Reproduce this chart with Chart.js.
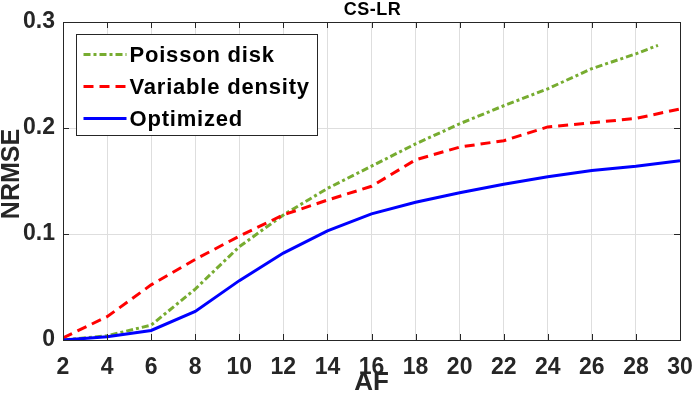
<!DOCTYPE html>
<html>
<head>
<meta charset="utf-8">
<script src="https://cdn.jsdelivr.net/npm/chart.js@4/dist/chart.umd.min.js"></script>
<style>
  html, body { margin: 0; padding: 0; background: #ffffff; }
  #wrap { width: 694px; height: 394px; position: relative; }
</style>
</head>
<body>
<div id="wrap"><canvas id="c" width="694" height="394"></canvas></div>
<script>
// ---- data ----
const chartTitle = 'CS-LR';
const xTitle = 'AF';
const yTitle = 'NRMSE';
const seriesNames = ['Poisson disk', 'Variable density', 'Optimized'];
const afValues = [2, 4, 6, 8, 10, 12, 14, 16, 18, 20, 22, 24, 26, 28, 30];
const poissonAF = [2, 4, 6, 8, 10, 12, 14, 16, 18, 20, 22, 24, 26, 28, 29];
const poissonDisk = [0.000, 0.004, 0.014, 0.048, 0.088, 0.118, 0.143, 0.164, 0.185, 0.204, 0.221, 0.237, 0.256, 0.270, 0.278];
const variableDensity = [0.002, 0.022, 0.052, 0.076, 0.098, 0.118, 0.132, 0.145, 0.170, 0.182, 0.188, 0.201, 0.205, 0.209, 0.218];
const optimized = [0.000, 0.003, 0.009, 0.027, 0.056, 0.082, 0.103, 0.119, 0.130, 0.139, 0.147, 0.154, 0.160, 0.164, 0.169];
const xTickStep = 2;
const yTickStep = 0.1;

const FONT = "'Liberation Sans', Arial, Helvetica, sans-serif";
const AXIS_COLOR = '#262626';

function pts(xs, ys) { return xs.map((x, i) => ({ x: x, y: ys[i] })); }

const insideTicks = {
  id: 'insideTicks',
  afterDatasetsDraw(chart) {
    const ctx = chart.ctx;
    const a = chart.chartArea;
    const xs = chart.scales.x, ys = chart.scales.y;
    const L = 6;
    ctx.save();
    ctx.strokeStyle = AXIS_COLOR;
    ctx.lineWidth = 1;
    ctx.beginPath();
    xs.ticks.forEach(t => {
      const px = Math.round(xs.getPixelForValue(t.value)) + 0.5;
      ctx.moveTo(px, a.bottom); ctx.lineTo(px, a.bottom - L);
      ctx.moveTo(px, a.top); ctx.lineTo(px, a.top + L);
    });
    ys.ticks.forEach(t => {
      const py = Math.round(ys.getPixelForValue(t.value)) + 0.5;
      ctx.moveTo(a.left, py); ctx.lineTo(a.left + L, py);
      ctx.moveTo(a.right, py); ctx.lineTo(a.right - L, py);
    });
    ctx.moveTo(a.left, Math.round(a.top) + 0.5); ctx.lineTo(a.right, Math.round(a.top) + 0.5);
    ctx.moveTo(Math.round(a.right) + 0.5, a.top); ctx.lineTo(Math.round(a.right) + 0.5, a.bottom);
    ctx.stroke();
    ctx.restore();
  }
};

// chart title and y-axis title
const titles = {
  id: 'titles',
  afterDraw(chart) {
    const ctx = chart.ctx;
    const a = chart.chartArea;
    ctx.save();
    ctx.fillStyle = '#000000';
    ctx.font = 'bold 18px ' + FONT;
    ctx.textAlign = 'center';
    ctx.textBaseline = 'alphabetic';
    try { ctx.letterSpacing = '0.5px'; } catch (e) {}
    ctx.fillText(chartTitle, (a.left + a.right) / 2 + 1, 15);
    try { ctx.letterSpacing = '0px'; } catch (e) {}
    ctx.translate(12, (a.top + a.bottom) / 2 - 7);
    ctx.rotate(-Math.PI / 2);
    ctx.font = 'bold 25px ' + FONT;
    ctx.fillStyle = AXIS_COLOR;
    ctx.textBaseline = 'middle';
    ctx.fillText(yTitle, 0, 0);
    ctx.restore();
  }
};

const boxLegend = {
  id: 'boxLegend',
  afterDraw(chart) {
    const ctx = chart.ctx;
    const a = chart.chartArea;
    const bx = Math.round(a.left + 13) + 0.5;
    const by = Math.round(a.top + 12) + 0.5;
    const bw = 241, bh = 101;
    ctx.save();
    ctx.fillStyle = '#ffffff';
    ctx.fillRect(bx, by, bw, bh);
    ctx.strokeStyle = AXIS_COLOR;
    ctx.lineWidth = 1;
    ctx.strokeRect(bx, by, bw, bh);
    ctx.font = 'bold 22px ' + FONT;
    try { ctx.letterSpacing = '0.8px'; } catch (e) {}
    ctx.textBaseline = 'middle';
    ctx.textAlign = 'left';
    chart.data.datasets.forEach((ds, i) => {
      const ry = by + 20 + i * 32;
      ctx.beginPath();
      ctx.strokeStyle = ds.borderColor;
      ctx.lineWidth = ds.borderWidth;
      ctx.setLineDash(ds.borderDash || []);
      ctx.moveTo(bx + 7, ry);
      ctx.lineTo(bx + 50, ry);
      ctx.stroke();
      ctx.setLineDash([]);
      ctx.fillStyle = '#000000';
      ctx.fillText(ds.label, bx + 53, ry + 1);
    });
    ctx.restore();
  }
};

new Chart(document.getElementById('c'), {
  type: 'line',
  data: {
    datasets: [
      { label: seriesNames[0], data: pts(poissonAF, poissonDisk), borderColor: '#77AC30', borderWidth: 3, borderDash: [7, 3, 3, 3], pointRadius: 0, fill: false, tension: 0, order: 3 },
      { label: seriesNames[1], data: pts(afValues, variableDensity), borderColor: '#FF0000', borderWidth: 3, borderDash: [10, 6], pointRadius: 0, fill: false, tension: 0, order: 2 },
      { label: seriesNames[2], data: pts(afValues, optimized), borderColor: '#0000FF', borderWidth: 3, pointRadius: 0, fill: false, tension: 0, order: 1 }
    ]
  },
  options: {
    responsive: false,
    animation: false,
    devicePixelRatio: 1,
    layout: { padding: { top: 22, right: 14, left: 0, bottom: 0 } },
    plugins: {
      legend: { display: false },
      tooltip: { enabled: false },
      title: { display: false }
    },
    scales: {
      x: {
        type: 'linear',
        min: 2, max: 30,
        afterFit(s) { s.height = 54; s.paddingLeft = 0; s.paddingRight = 0; },
        ticks: {
          stepSize: xTickStep,
          color: AXIS_COLOR,
          font: { family: FONT, size: 23, weight: 'bold', lineHeight: 1.2 },
          padding: 14,
          maxRotation: 0,
          autoSkip: false
        },
        grid: { color: '#dedede', lineWidth: 1, drawTicks: false },
        border: { display: true, color: AXIS_COLOR, width: 1 },
        title: {
          display: true,
          text: xTitle,
          color: AXIS_COLOR,
          font: { family: FONT, size: 26, weight: 'bold', lineHeight: 0.9 },
          padding: { top: 0, bottom: -1 }
        }
      },
      y: {
        type: 'linear',
        min: 0, max: 0.3,
        afterFit(s) { s.width = 63; s.paddingTop = 0; s.paddingBottom = 0; },
        ticks: {
          stepSize: yTickStep,
          color: AXIS_COLOR,
          font: { family: FONT, size: 23, weight: 'bold' },
          padding: 8,
          callback: v => (Math.abs(v) < 1e-9 ? '0' : v.toFixed(1))
        },
        grid: { color: '#dedede', lineWidth: 1, drawTicks: false },
        border: { display: true, color: AXIS_COLOR, width: 1 },
        title: { display: false }
      }
    }
  },
  plugins: [insideTicks, titles, boxLegend]
});
</script>
</body>
</html>
